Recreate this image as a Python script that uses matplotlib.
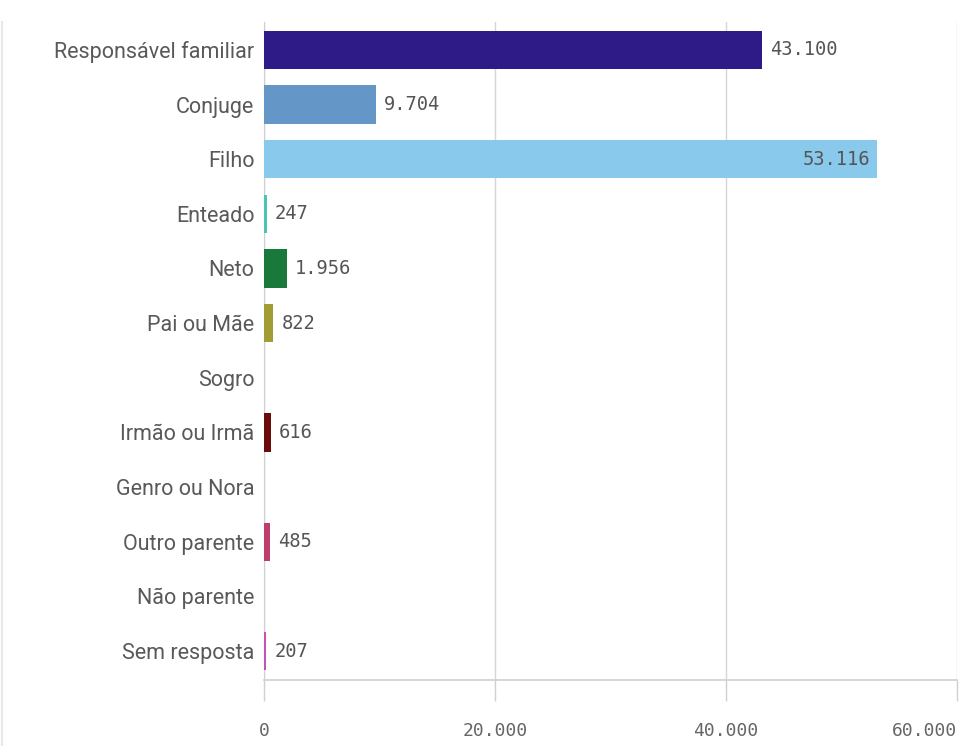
import matplotlib.pyplot as plt
from matplotlib.lines import Line2D

# Data
categories = ['Responsável familiar', 'Conjuge', 'Filho', 'Enteado', 'Neto',
              'Pai ou Mãe', 'Sogro', 'Irmão ou Irmã', 'Genro ou Nora',
              'Outro parente', 'Não parente', 'Sem resposta']
values = [43100, 9704, 53116, 247, 1956, 822, 0, 616, 0, 485, 0, 207]
colors = ['#2e1b88', '#6496c8', '#88c9ec', '#4cc3b3', '#18793a', '#a09e33',
          '#888888', '#6b0b0b', '#888888', '#c03c6c', '#888888', '#c054b0']
xticks = [0, 20000, 40000, 60000]


def fmt(v):
    return f'{v:,}'.replace(',', '.')


fig = plt.figure(figsize=(9.62, 7.46), dpi=100)
ax = fig.add_axes([264 / 962, 1 - 680 / 746, (957 - 264) / 962, (680 - 22) / 746])

y = list(range(len(categories)))
ax.barh(y, values, height=0.7, color=colors, zorder=3)

ax.set_xlim(0, 60000)
ax.set_ylim(11.53, -0.51)
ax.set_yticks(y)
ax.set_yticklabels(categories, fontsize=15.5, color='#595959', family='Roboto')
ax.tick_params(axis='y', length=0, pad=7)

ax.set_xticks(xticks)
xl = ax.set_xticklabels([fmt(t) for t in xticks], fontsize=13, color='#666666',
                        family='DejaVu Sans Mono')
xl[-1].set_ha('right')
ax.tick_params(axis='x', length=15, width=1, color='#d0d0d0', pad=15)
ax.grid(axis='x', color='#d6d6d6', linewidth=1, zorder=0)

for s in ['top', 'right']:
    ax.spines[s].set_visible(False)
ax.spines['left'].set_color('#d0d0d0')
ax.spines['bottom'].set_color('#d0d0d0')
ax.spines['bottom'].set_linewidth(1.2)

for yi, v in zip(y, values):
    if v == 0:
        continue
    if v > 50000:
        ax.text(v - 600, yi, fmt(v), ha='right', va='center', fontsize=13.5,
                color='#555555', family='DejaVu Sans Mono', zorder=4)
    else:
        ax.text(v + 700, yi, fmt(v), ha='left', va='center', fontsize=13.5,
                color='#555555', family='DejaVu Sans Mono', zorder=4)

# faint outer frame line
fig.add_artist(Line2D([2 / 962, 2 / 962], [0, 0.97], color='#e8e8e8', linewidth=1.5))

fig.savefig('out.png')
